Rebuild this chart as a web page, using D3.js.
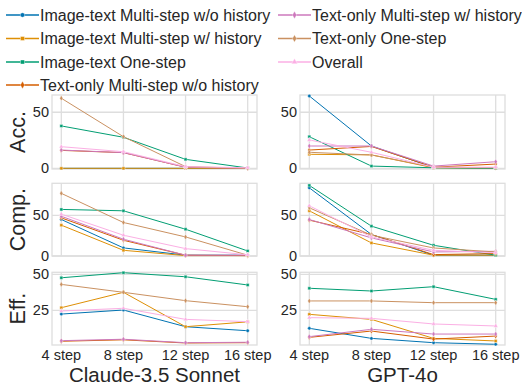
<!DOCTYPE html>
<html>
<head>
<meta charset="utf-8">
<script src="https://cdn.jsdelivr.net/npm/d3@7"></script>
<style>
  body { margin: 0; background: #fff; }
  svg { font-family: "Liberation Sans", Arial, sans-serif; }
</style>
</head>
<body>
<svg id="chart" width="522" height="386"></svg>
<script>
// categories
const steps = ['4 step', '8 step', '12 step', '16 step'];
const models = ['Claude-3.5 Sonnet', 'GPT-4o'];
const metrics = ['Acc.', 'Comp.', 'Eff.'];
const seriesNames = [
  'Image-text Multi-step w/o history',
  'Image-text Multi-step w/ history',
  'Image-text One-step',
  'Text-only Multi-step w/o history',
  'Text-only Multi-step w/ history',
  'Text-only One-step',
  'Overall'
];
const yTicks = [[0, 50], [0, 50], [25, 50]];

// values, one row per series (same order as seriesNames)
const claudeAcc = [
  [0, 0, 0, 0],
  [0, 0, 0, 0],
  [37.8, 27.7, 8, 0.3],
  [16, 14, 1, 0],
  [16.3, 14, 1, 0],
  [62.5, 28.2, 1.5, 0],
  [19.3, 14.8, 1.5, 0.5]
];
const gptAcc = [
  [64.5, 19.9, 0.8, 0.5],
  [12.5, 12, 0.5, 0],
  [28.2, 2, 0.5, 0],
  [16.3, 19.5, 1, 3.8],
  [19.9, 19.9, 2, 5.9],
  [14.3, 11.9, 1, 0.5],
  [25.3, 14.3, 1, 1]
];
const claudeComp = [
  [45, 10, 1, 1],
  [38, 7, 0.5, 0.5],
  [57.4, 55.7, 33, 6.2],
  [47, 19.4, 1, 0.5],
  [49, 20.7, 1, 1],
  [77.2, 41.3, 23.5, 1],
  [51.6, 25.6, 9.1, 1.5]
];
const gptComp = [
  [84, 26.5, 1, 1],
  [55.7, 16.1, 1, 1],
  [87, 36.8, 13.2, 1],
  [44.2, 26.5, 1.7, 3],
  [45, 22.3, 5, 5.8],
  [59.4, 25.6, 9.9, 5],
  [61.9, 23.5, 7, 4]
];
const claudeEff = [
  [22.4, 25.2, 13.6, 10.8],
  [26.8, 37.5, 13.6, 17],
  [47.6, 51.1, 48.3, 42.6],
  [3.5, 4.5, 2.3, 2.5],
  [3.9, 4.9, 2.5, 2.8],
  [43, 37.5, 31.7, 27.5],
  [24.5, 26.4, 18.7, 17.1]
];
const gptEff = [
  [12.5, 5.5, 2.5, 1.4],
  [22.2, 18.7, 5.5, 3.7],
  [40.3, 38.4, 41.4, 32.6],
  [6.2, 10.6, 5, 7.1],
  [6.7, 11.8, 8.5, 8.5],
  [31.5, 31.5, 30.3, 30.3],
  [19.9, 19.4, 15.5, 14.1]
];

const panelData = [
  [claudeAcc, gptAcc],
  [claudeComp, gptComp],
  [claudeEff, gptEff]
];

// seaborn colorblind palette
const colors = ['#0173B2', '#DE8F05', '#029E73', '#D55E00', '#CC78BC', '#CA9161', '#FBAFE4'];
const symbols = [d3.symbolCircle, d3.symbolSquare, d3.symbolSquare, d3.symbolDiamond,
  d3.symbolDiamond, d3.symbolDiamond, d3.symbolTriangle];

const textColor = '#262626';
const gridColor = '#dedede';

// layout
const cols = [[52, 257], [300, 505]];
const rows = [[95, 169], [183.3, 256], [272.3, 345]];
const yDomains = [[-0.6, 65.4], [0, 89.6], [0.9, 51.4]];

const svg = d3.select('#chart');

// ---- legend ----
const legendPos = [
  [6, 15], [6, 38.5], [6, 62], [6, 85],
  [278, 15], [278, 38.5], [278, 62]
];
const legend = svg.append('g').attr('class', 'legend');
seriesNames.forEach((name, i) => {
  const [lx, ly] = legendPos[i];
  const g = legend.append('g').attr('transform', `translate(${lx},${ly})`);
  g.append('line')
    .attr('x1', 0).attr('x2', 33)
    .attr('stroke', colors[i]).attr('stroke-width', 1.5);
  g.append('path')
    .attr('transform', 'translate(16.5,0)')
    .attr('d', d3.symbol().type(symbols[i]).size(16)())
    .attr('fill', colors[i]).attr('stroke', '#fff').attr('stroke-width', 0.4);
  g.append('text')
    .attr('x', 34).attr('y', 5.8)
    .attr('font-size', 16)
    .attr('fill', textColor)
    .text(name);
});

// ---- panels ----
metrics.forEach((metric, r) => {
  const [top, bottom] = rows[r];
  const y = d3.scaleLinear().domain(yDomains[r]).range([bottom, top]);

  models.forEach((model, c) => {
    const [left, right] = cols[c];
    const x = d3.scalePoint().domain(steps).range([left, right]).padding(0.15);
    const panel = svg.append('g').attr('class', `panel r${r} c${c}`);

    // background + frame
    panel.append('rect')
      .attr('x', left).attr('y', top)
      .attr('width', right - left).attr('height', bottom - top)
      .attr('fill', '#fff');

    // grid
    panel.selectAll('.hgrid').data(yTicks[r]).join('line')
      .attr('class', 'hgrid')
      .attr('x1', left).attr('x2', right)
      .attr('y1', d => y(d)).attr('y2', d => y(d))
      .attr('stroke', gridColor).attr('stroke-width', 1.3);
    panel.selectAll('.vgrid').data(steps).join('line')
      .attr('class', 'vgrid')
      .attr('x1', d => x(d)).attr('x2', d => x(d))
      .attr('y1', top).attr('y2', bottom)
      .attr('stroke', gridColor).attr('stroke-width', 1.3);

    panel.append('rect')
      .attr('x', left).attr('y', top)
      .attr('width', right - left).attr('height', bottom - top)
      .attr('fill', 'none').attr('stroke', gridColor).attr('stroke-width', 1.3);

    // y ticks
    panel.selectAll('.ytick').data(yTicks[r]).join('text')
      .attr('class', 'ytick')
      .attr('x', left - 3)
      .attr('y', d => y(d) + 5)
      .attr('text-anchor', 'end')
      .attr('font-size', 14.5)
      .attr('fill', textColor)
      .text(d => d);

    // lines
    const line = d3.line()
      .x((d, i) => x(steps[i]))
      .y(d => y(d));
    const values = panelData[r][c];
    values.forEach((vals, s) => {
      panel.append('path')
        .datum(vals)
        .attr('d', line)
        .attr('fill', 'none')
        .attr('stroke', colors[s])
        .attr('stroke-width', 1);
      panel.selectAll(`.m${s}`).data(vals).join('path')
        .attr('class', `m${s}`)
        .attr('transform', (d, i) => `translate(${x(steps[i])},${y(d)})`)
        .attr('d', d3.symbol().type(symbols[s]).size(9)())
        .attr('fill', colors[s])
        .attr('stroke', '#fff')
        .attr('stroke-width', 0.4);
    });

    // x axis labels on bottom row
    if (r === metrics.length - 1) {
      panel.selectAll('.xtick').data(steps).join('text')
        .attr('class', 'xtick')
        .attr('x', d => x(d))
        .attr('y', bottom + 15)
        .attr('text-anchor', 'middle')
        .attr('font-size', 14.5)
        .attr('fill', textColor)
        .text(d => d);
      panel.append('text')
        .attr('x', (left + right) / 2)
        .attr('y', 382)
        .attr('text-anchor', 'middle')
        .attr('font-size', 20.5)
        .attr('fill', textColor)
        .text(model);
    }
  });

  // row label
  svg.append('text')
    .attr('transform', `translate(25,${(top + bottom) / 2}) rotate(-90)`)
    .attr('text-anchor', 'middle')
    .attr('font-size', 21.5)
    .attr('fill', textColor)
    .text(metric);
});
</script>
</body>
</html>
